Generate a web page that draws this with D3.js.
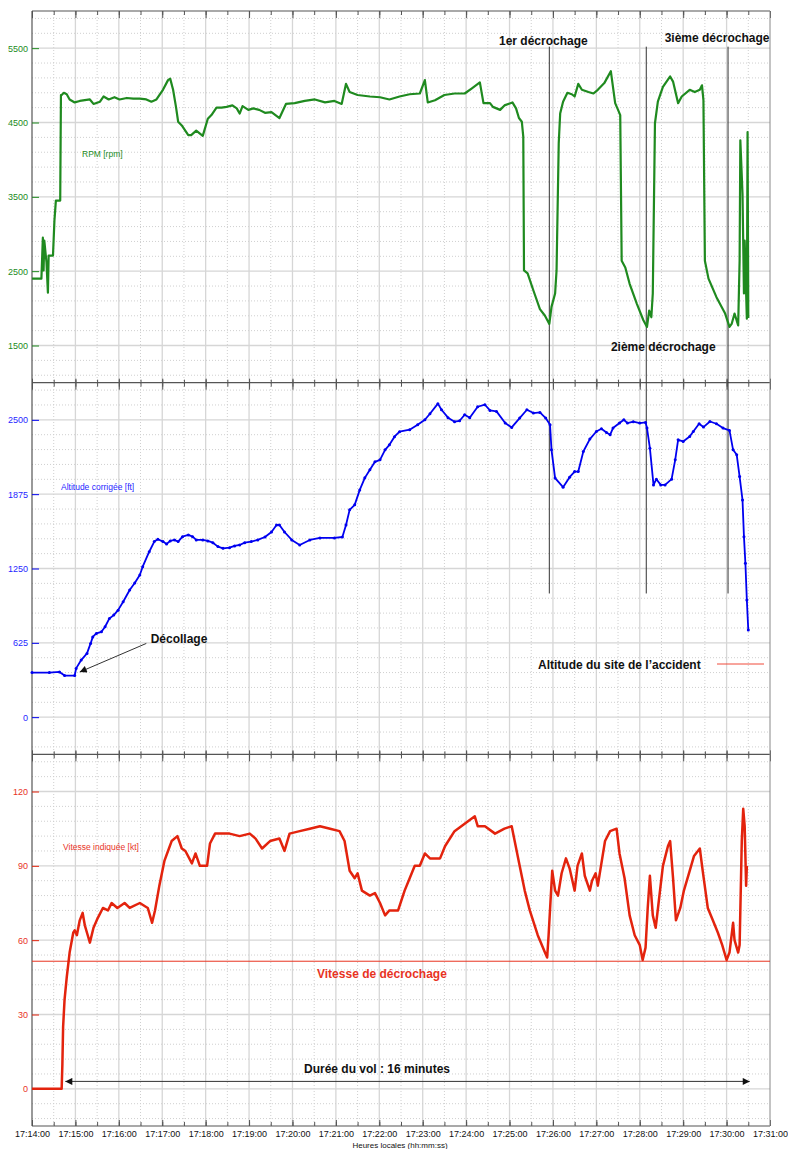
<!DOCTYPE html>
<html>
<head>
<meta charset="utf-8">
<script src="https://cdn.jsdelivr.net/npm/d3@7"></script>
<style>
body { margin: 0; background: #fff; }
text { font-family: "Liberation Sans", Arial, sans-serif; }
</style>
</head>
<body>
<svg id="chart" width="788" height="1149"></svg>
<script>
// all times are seconds after 17:14:00 (local time)

// engine speed [rpm]
var rpmData = [[0,2400],[13,2400],[15,2950],[16,2510],[17,2910],[20,2620],[22,2210],[23,2710],[29,2710],[31,3180],[33,3450],[39,3450],
  [40,4870],[41,4870],[44,4900],[48,4880],[52,4810],[59,4770],[66,4790],[73,4800],[80,4810],[85,4750],[94,4780],[99,4850],
  [106,4810],[114,4840],[121,4810],[131,4830],[140,4820],[149,4820],[158,4810],[165,4780],[172,4810],[181,4940],[188,5070],
  [191,5090],[195,4940],[199,4710],[202,4510],[207,4460],[216,4330],[220,4330],[227,4390],[236,4320],[243,4550],[248,4600],
  [255,4700],[262,4700],[269,4710],[277,4730],[283,4690],[287,4620],[291,4720],[299,4670],[306,4690],[314,4670],[322,4630],
  [331,4640],[342,4560],[351,4750],[363,4760],[377,4790],[391,4810],[405,4770],[418,4790],[428,4750],[434,5020],[439,4910],
  [450,4870],[467,4850],[481,4840],[494,4810],[508,4850],[522,4880],[536,4890],[543,5070],[547,4770],[557,4800],[570,4870],
  [584,4890],[598,4890],[608,4960],[619,5040],[624,4760],[633,4760],[637,4710],[647,4670],[653,4730],[664,4770],[669,4690],
  [673,4560],[677,4510],[679,4310],[680,2510],[685,2470],[693,2240],[702,1990],[709,1900],[715,1790],[718,2020],[723,2200],
  [725,2510],[728,4220],[730,4620],[734,4780],[740,4900],[746,4880],[750,4850],[755,5020],[760,4940],[769,4910],[776,4890],
  [782,4940],[791,5030],[800,5190],[806,4760],[810,4670],[813,4600],[815,2640],[820,2550],[826,2330],[836,2060],[845,1840],
  [850,1750],[853,1970],[856,1880],[858,2200],[861,4490],[865,4780],[872,4980],[882,5120],[886,5050],[893,4760],[898,4850],
  [909,4940],[916,4910],[923,4940],[926,5000],[928,4800],[930,2640],[935,2400],[946,2150],[958,1930],[964,1750],[967,1790],
  [971,1930],[976,1770],[978,2640],[979,4260],[982,3540],[984,2200],[985,2910],[988,1860],[989,4370],[990,1870]];

// corrected altitude [ft]
var altData = [[0,375],[24,375],[38,380],[45,350],[59,350],[61,410],[68,480],[76,536],[81,620],[84,675],[89,704],[96,718],
  [101,760],[107,830],[113,858],[119,900],[126,970],[135,1069],[142,1128],[149,1195],[153,1265],[162,1391],[169,1476],
  [174,1496],[181,1476],[186,1456],[191,1482],[197,1490],[202,1476],[208,1518],[216,1532],[222,1518],[227,1490],[236,1490],
  [243,1482],[250,1467],[257,1434],[264,1420],[273,1425],[280,1440],[287,1448],[294,1467],[303,1476],[312,1490],[322,1515],
  [331,1557],[338,1616],[342,1616],[349,1557],[359,1490],[370,1448],[384,1490],[398,1507],[418,1507],[429,1515],[434,1616],
  [439,1743],[446,1785],[453,1911],[460,2012],[467,2080],[474,2147],[481,2164],[488,2248],[494,2290],[501,2358],[508,2400],
  [522,2417],[533,2459],[543,2501],[550,2551],[561,2636],[566,2585],[575,2518],[584,2484],[591,2492],[598,2543],[605,2518],
  [616,2610],[626,2627],[633,2579],[642,2571],[654,2473],[663,2436],[674,2515],[684,2585],[693,2557],[702,2562],[710,2515],
  [716,2459],[718,2248],[723,2010],[734,1934],[743,2018],[750,2065],[755,2065],[762,2234],[771,2338],[780,2402],[787,2425],
  [794,2394],[799,2374],[803,2431],[812,2473],[818,2501],[823,2473],[831,2484],[840,2473],[848,2478],[850,2431],[854,2262],
  [859,1953],[863,2001],[869,1953],[875,1953],[884,2001],[889,2164],[893,2332],[900,2318],[909,2360],[914,2402],[922,2467],
  [928,2439],[937,2486],[946,2467],[955,2431],[964,2411],[969,2248],[974,2206],[978,2023],[982,1827],[984,1518],[986,1294],
  [988,985],[990,732]];

// indicated airspeed [kt]
var spdData = [[0,0],[41,0],[42,10],[43,25],[45,36],[48,45],[52,55],[57,63],[59,64],[62,62],[66,68],[70,71],[73,66],[76,63],
  [80,59],[85,65],[91,69],[98,73],[105,72],[110,75],[118,73],[128,75],[135,73],[149,75],[160,73],[166,67],[170,72],[176,82],
  [183,92],[188,96],[193,100],[201,102],[207,97],[212,96],[221,91],[226,95],[232,90],[242,90],[246,99],[253,103],[259,103],
  [273,103],[287,102],[301,103],[309,101],[318,97],[329,100],[342,101],[349,96],[356,103],[370,104],[384,105],[398,106],
  [412,105],[425,104],[432,100],[439,88],[446,85],[450,87],[456,80],[467,78],[474,79],[481,75],[488,70],[494,72],[506,72],
  [515,80],[522,85],[529,90],[536,90],[543,95],[550,93],[564,93],[571,98],[584,104],[598,107],[612,110],[616,106],[626,106],
  [640,103],[653,105],[663,106],[674,90],[681,80],[688,72],[699,62],[709,55],[712,53],[714,62],[719,88],[723,80],[727,78],
  [732,87],[738,93],[743,89],[750,80],[754,90],[760,95],[764,86],[771,80],[774,84],[779,87],[782,82],[792,100],[799,104],
  [808,105],[812,95],[819,85],[826,70],[833,62],[840,58],[844,52],[848,57],[851,73],[854,86],[858,70],[862,65],[866,75],
  [872,90],[879,98],[882,100],[886,85],[890,68],[896,73],[901,80],[909,88],[915,94],[923,97],[927,88],[934,73],[941,68],
  [948,63],[954,58],[960,52],[964,55],[969,67],[971,60],[976,55],[978,58],[981,100],[983,113],[985,106],[987,82],[988,90]];

var stallTimes = [715, 849, 962];
var stallLabels = ["1er décrochage", "2ième décrochage", "3ième décrochage"];
var stallSpeed = 51.5;       // kt
var takeoff = [66, 380];     // time, altitude
var flight = [46, 992];      // arrow ends, s

var base = new Date(2000, 0, 1, 17, 14, 0);
function toDate(s) { return new Date(base.getTime() + s * 1000); }

//layout
var margin = {top: 11, left: 32, right: 18, bottom: 23},
    width = 788 - margin.left - margin.right,
    height = 1149 - margin.top - margin.bottom,
    ph = height / 3;

var svg = d3.select("#chart");

var x = d3.scaleTime()
    .domain([toDate(0), toDate(17 * 60)])
    .range([margin.left, margin.left + width]);

var panels = [
  {label: "RPM [rpm]", color: "#1f8a1f", text: "#228b22", domain: [1000, 6000], ticks: [1500, 2500, 3500, 4500, 5500], step: 200, data: rpmData, lx: 82, ly: 157},
  {label: "Altitude corrigée [ft]", color: "#0000f0", text: "#1f1fff", domain: [-312.5, 2812.5], ticks: [0, 625, 1250, 1875, 2500], step: 125, data: altData, lx: 61, ly: 490},
  {label: "Vitesse indiquée [kt]", color: "#e3230d", text: "#e8331f", domain: [-15, 135], ticks: [0, 30, 60, 90, 120], step: 6, data: spdData, lx: 63, ly: 850}
];

panels.forEach(function(p, i) {
  p.top = margin.top + i * ph;
  p.y = d3.scaleLinear().domain(p.domain).range([p.top + ph, p.top]);
});

var grid = svg.append("g").attr("class", "grid");

//vertical grid: dotted every 30 s, solid every minute
var halfMinutes = d3.timeSecond.every(30).range(toDate(1), toDate(17 * 60));
grid.selectAll("line.vmin")
    .data(halfMinutes.filter(function(d) { return d.getSeconds() == 30; }))
    .enter().append("line")
    .attr("x1", x).attr("x2", x)
    .attr("y1", margin.top).attr("y2", margin.top + height)
    .attr("stroke", "#cfcfcf").attr("stroke-dasharray", "1,2");
grid.selectAll("line.vmaj")
    .data(d3.timeMinute.every(1).range(toDate(1), toDate(17 * 60)))
    .enter().append("line")
    .attr("x1", x).attr("x2", x)
    .attr("y1", margin.top).attr("y2", margin.top + height)
    .attr("stroke", "#d6d6d6").attr("stroke-width", 1.3);

//horizontal grid for each panel
panels.forEach(function(p) {
  var minor = d3.range(p.ticks[0] - 5 * p.step, p.domain[1], p.step)
      .filter(function(v) { return v > p.domain[0] && v < p.domain[1] && p.ticks.indexOf(v) < 0; });
  grid.append("g").selectAll("line")
      .data(minor).enter().append("line")
      .attr("x1", margin.left).attr("x2", margin.left + width)
      .attr("y1", p.y).attr("y2", p.y)
      .attr("stroke", "#cfcfcf").attr("stroke-dasharray", "1,2");
  grid.append("g").selectAll("line")
      .data(p.ticks).enter().append("line")
      .attr("x1", margin.left).attr("x2", margin.left + width)
      .attr("y1", p.y).attr("y2", p.y)
      .attr("stroke", "#d6d6d6").attr("stroke-width", 1.3);
});

//time ticks on every panel edge
function timeTicks(g, y, dir, big, small) {
  var a = dir == "down" ? d3.axisBottom(x) : d3.axisTop(x);
  g.append("g").attr("transform", "translate(0," + y + ")")
      .call(a.ticks(d3.timeSecond.every(30)).tickSize(small).tickSizeOuter(0).tickFormat(""))
      .call(function(s) { s.select(".domain").remove(); s.selectAll("line").attr("stroke", "#555"); });
  g.append("g").attr("transform", "translate(0," + y + ")")
      .call(a.ticks(d3.timeMinute.every(1)).tickSize(big).tickSizeOuter(0).tickFormat(""))
      .call(function(s) { s.select(".domain").remove(); s.selectAll("line").attr("stroke", "#555"); });
}

var axes = svg.append("g").attr("class", "axes");
panels.forEach(function(p, i) {
  timeTicks(axes, p.top, "down", 7, 4);
  if (i < 2) timeTicks(axes, p.top + ph, "up", 4, 3);
});
timeTicks(axes, margin.top + height, "up", 6, 4);

//hour labels
axes.append("g")
    .attr("transform", "translate(0," + (margin.top + height) + ")")
    .call(d3.axisBottom(x).ticks(d3.timeMinute.every(1)).tickSize(0).tickPadding(5)
        .tickFormat(d3.timeFormat("%H:%M:%S")))
    .call(function(s) {
      s.select(".domain").remove();
      s.selectAll("text").attr("font-size", 9).attr("fill", "#111")
          .style("font-family", "'Liberation Sans', Arial, sans-serif");
    });

svg.append("text")
    .attr("x", 400).attr("y", 1148)
    .attr("text-anchor", "middle")
    .attr("font-size", 8).attr("fill", "#111")
    .text("Heures locales (hh:mm:ss)");

//frame and panel dividers
var frameColor = "#555";
panels.forEach(function(p) {
  axes.append("line")
      .attr("x1", margin.left).attr("x2", margin.left + width)
      .attr("y1", p.top).attr("y2", p.top)
      .attr("stroke", frameColor).attr("stroke-width", 1.2);
});
axes.append("line")
    .attr("x1", margin.left).attr("x2", margin.left + width)
    .attr("y1", margin.top + height).attr("y2", margin.top + height)
    .attr("stroke", frameColor).attr("stroke-width", 1.2);
axes.append("line")
    .attr("x1", margin.left).attr("x2", margin.left)
    .attr("y1", margin.top).attr("y2", margin.top + height)
    .attr("stroke", frameColor).attr("stroke-width", 1.2);
axes.append("line")
    .attr("x1", margin.left + width).attr("x2", margin.left + width)
    .attr("y1", margin.top).attr("y2", margin.top + height)
    .attr("stroke", "#888").attr("stroke-width", 1);

//value axes
panels.forEach(function(p) {
  axes.append("g")
      .attr("transform", "translate(" + margin.left + ",0)")
      .call(d3.axisLeft(p.y).tickValues(p.ticks).tickFormat(d3.format("d"))
          .tickSizeInner(-7).tickSizeOuter(0).tickPadding(4))
      .call(function(s) {
        s.select(".domain").remove();
        s.selectAll("line").attr("stroke", p.color);
        s.selectAll("text").attr("fill", p.text).attr("font-size", 9)
            .style("font-family", "'Liberation Sans', Arial, sans-serif");
      });

  svg.append("text")
      .attr("x", p.lx).attr("y", p.ly)
      .attr("font-size", 8.5).attr("fill", p.text)
      .text(p.label);
});

var pRpm = panels[0], pAlt = panels[1], pSpd = panels[2];

//stall marker lines
svg.append("g").selectAll("line")
    .data(stallTimes).enter().append("line")
    .attr("x1", function(d) { return x(toDate(d)); })
    .attr("x2", function(d) { return x(toDate(d)); })
    .attr("y1", pRpm.y(5520))
    .attr("y2", pAlt.y(1040))
    .attr("stroke", "#333").attr("stroke-width", 1);

//stall speed
svg.append("line")
    .attr("x1", margin.left).attr("x2", margin.left + width)
    .attr("y1", pSpd.y(stallSpeed)).attr("y2", pSpd.y(stallSpeed))
    .attr("stroke", "#e8331f").attr("stroke-width", 1);

//data lines
panels.forEach(function(p) {
  var line = d3.line()
      .x(function(d) { return x(toDate(d[0])); })
      .y(function(d) { return p.y(d[1]); });
  svg.append("path")
      .datum(p.data)
      .attr("fill", "none")
      .attr("stroke", p.color)
      .attr("stroke-width", p === pAlt ? 1.8 : (p === pSpd ? 2.5 : 2.2))
      .attr("stroke-linejoin", "round")
      .attr("d", line);
});

//sample markers on the altitude trace
svg.append("g").selectAll("circle")
    .data(altData).enter().append("circle")
    .attr("cx", function(d) { return x(toDate(d[0])); })
    .attr("cy", function(d) { return pAlt.y(d[1]); })
    .attr("r", 1.5)
    .attr("fill", pAlt.color);

//annotations
var defs = svg.append("defs");
defs.append("marker")
    .attr("id", "head")
    .attr("viewBox", "0 0 10 10")
    .attr("refX", 10).attr("refY", 5)
    .attr("markerWidth", 9).attr("markerHeight", 7)
    .attr("markerUnits", "userSpaceOnUse")
    .attr("orient", "auto-start-reverse")
    .append("path").attr("d", "M0,0L10,5L0,10z").attr("fill", "#111");

function bold(txt, x0, y0, anchor, color) {
  svg.append("text")
      .attr("x", x0).attr("y", y0)
      .attr("text-anchor", anchor || "start")
      .attr("font-size", 12).attr("font-weight", "bold")
      .attr("fill", color || "#111")
      .text(txt);
}

bold(stallLabels[0], x(toDate(stallTimes[0])) - 6, 45, "middle");
bold(stallLabels[1], x(toDate(stallTimes[1])) + 17, 351, "middle");
bold(stallLabels[2], x(toDate(stallTimes[2])) - 11, 42, "middle");

//take-off arrow
svg.append("line")
    .attr("x1", x(toDate(158))).attr("y1", pAlt.y(620))
    .attr("x2", x(toDate(takeoff[0]))).attr("y2", pAlt.y(takeoff[1]))
    .attr("stroke", "#333").attr("stroke-width", 1)
    .attr("marker-end", "url(#head)");
bold("Décollage", x(toDate(164)), pAlt.y(623));

//accident site legend
bold("Altitude du site de l’accident", 538, 669);
svg.append("line")
    .attr("x1", 717).attr("x2", 764)
    .attr("y1", 664).attr("y2", 664)
    .attr("stroke", "#f04a3a").attr("stroke-width", 1);

bold("Vitesse de décrochage", 317, 978, "start", "#e8331f");

//flight duration
svg.append("line")
    .attr("x1", x(toDate(flight[0]))).attr("x2", x(toDate(flight[1])))
    .attr("y1", pSpd.y(3)).attr("y2", pSpd.y(3))
    .attr("stroke", "#333").attr("stroke-width", 1)
    .attr("marker-start", "url(#head)")
    .attr("marker-end", "url(#head)");
bold("Durée du vol : 16 minutes", 304, 1073);
</script>
</body>
</html>
